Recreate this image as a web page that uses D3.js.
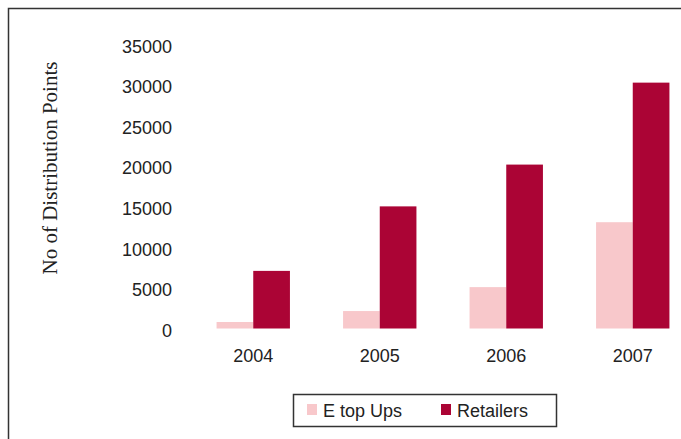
<!DOCTYPE html>
<html lang="en">
<head>
    <meta charset="UTF-8">
    <title>Distribution Points</title>
    <script src="https://d3js.org/d3.v7.min.js"></script>
    <style>
        body { margin: 0; background: #fff; }
    </style>
</head>
<body>
<div style="width: 681px;height: 439px" id="figure"></div>
<script>

    let years = ["2004", "2005", "2006", "2007"];
    let seriesNames = ["E top Ups", "Retailers"];
    let eTopUps = [800, 2150, 5100, 13100];
    let retailers = [7100, 15050, 20200, 30300];
    let yTicks = [0, 5000, 10000, 15000, 20000, 25000, 30000, 35000];
    let colors = ["#f8c8cb", "#ab0435"];

    let figure = document.getElementById("figure");
    let w = figure.clientWidth;
    let h = figure.clientHeight;

    let svg = d3.select(figure).append("svg")
        .attr("width", w)
        .attr("height", h);

    // outer frame (right and bottom run off the picture)
    svg.append("rect")
        .attr("x", 8.5)
        .attr("y", 8.5)
        .attr("width", 720)
        .attr("height", 480)
        .attr("fill", "none")
        .attr("stroke", "#333")
        .attr("stroke-width", 1.5);

    let xScale = d3.scaleBand()
        .domain(years)
        .range([190, 696])
        .paddingInner(0.42)
        .paddingOuter(0.21);
    let xInner = d3.scaleBand()
        .domain(seriesNames)
        .range([0, xScale.bandwidth()]);
    let yScale = d3.scaleLinear()
        .domain([0, 35000])
        .range([328.5, 44.5]);

    let plot = svg.append("g").attr("id", "plot");

    // y tick labels, no axis line
    let yAxis = d3.axisLeft(yScale)
        .tickValues(yTicks)
        .tickSize(0)
        .tickPadding(0)
        .tickFormat(d => d);
    let yg = plot.append("g")
        .attr("transform", "translate(172,2)")
        .call(yAxis);
    yg.select(".domain").remove();
    yg.selectAll("text")
        .style("font-family", "'Liberation Sans', Arial, sans-serif")
        .style("font-size", "18px")
        .attr("fill", "#222");

    // x labels
    let xAxis = d3.axisBottom(xScale).tickSize(0).tickPadding(0);
    let xg = plot.append("g")
        .attr("transform", "translate(0,349)")
        .call(xAxis);
    xg.select(".domain").remove();
    xg.selectAll("text")
        .style("font-family", "'Liberation Sans', Arial, sans-serif")
        .style("font-size", "18px")
        .attr("fill", "#222");

    let series = [eTopUps, retailers];
    series.forEach(function (vals, si) {
        plot.selectAll(".bar" + si)
            .data(vals)
            .enter()
            .append("rect")
            .attr("x", (d, i) => xScale(years[i]) + xInner(seriesNames[si]))
            .attr("y", d => yScale(d))
            .attr("width", xInner.bandwidth())
            .attr("height", d => yScale(0) - yScale(d))
            .attr("fill", colors[si]);
    });

    // y axis title
    svg.append("text")
        .attr("transform", "translate(57,168) rotate(-90)")
        .attr("text-anchor", "middle")
        .style("font-family", "'Liberation Serif', 'Times New Roman', serif")
        .style("font-size", "21px")
        .attr("fill", "#222")
        .text("No of Distribution Points");

    // legend
    let legend = svg.append("g").attr("transform", "translate(293,394)");
    legend.append("rect")
        .attr("x", 0.5)
        .attr("y", 0.5)
        .attr("width", 263)
        .attr("height", 32)
        .attr("fill", "#fff")
        .attr("stroke", "#333")
        .attr("stroke-width", 1.5);
    let legendX = [14, 148];
    seriesNames.forEach(function (name, i) {
        legend.append("rect")
            .attr("x", legendX[i])
            .attr("y", 10)
            .attr("width", 10)
            .attr("height", 11)
            .attr("fill", colors[i]);
        legend.append("text")
            .attr("x", legendX[i] + 16)
            .attr("y", 23)
            .style("font-family", "'Liberation Sans', Arial, sans-serif")
            .style("font-size", "18px")
            .attr("fill", "#222")
            .text(name);
    });
</script>
</body>
</html>
